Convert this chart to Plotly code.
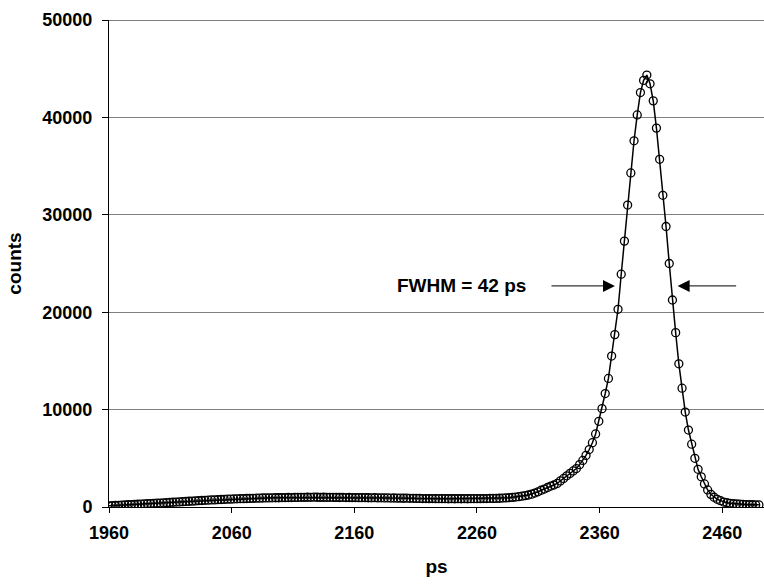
import plotly.graph_objects as go

# Channel calibration (ps)
CHANNEL_START_PS = 1960.0
CHANNEL_WIDTH_PS = 2.61

# Counts per channel
counts = [
    120, 135, 155, 165, 190, 205, 230, 245, 255, 280,
    300, 315, 340, 350, 370, 395, 405, 430, 445, 470,
    490, 505, 530, 545, 575, 590, 605, 630, 655, 665,
    690, 700, 725, 735, 755, 770, 780, 800, 805, 825,
    840, 850, 855, 875, 880, 890, 905, 905, 925, 930,
    935, 945, 950, 950, 965, 960, 975, 970, 985, 980,
    995, 990, 1000, 995, 1005, 1000, 990, 1000, 985, 995,
    980, 990, 975, 980, 970, 975, 965, 970, 960, 955,
    965, 950, 945, 955, 940, 945, 930, 935, 920, 925,
    910, 915, 900, 905, 890, 895, 880, 885, 870, 868,
    860, 865, 855, 858, 850, 852, 845, 850, 848, 852,
    845, 850, 848, 855, 850, 855, 860, 865, 870, 880,
    880, 885, 900, 920, 940, 960, 990, 1020, 1060, 1110,
    1170, 1230, 1320, 1430, 1560, 1720, 1840, 2000, 2150, 2260,
    2420, 2680, 2930, 3200, 3450, 3700, 3950, 4350, 4780, 5300,
    5900, 6600, 7500, 8800, 10100, 11650, 13200, 15500, 17700, 20300,
    23900, 27300, 31000, 34300, 37600, 40250, 42550, 43800, 44350, 43450,
    41700, 38900, 35700, 32000, 28800, 25000, 21250, 17900, 14700, 12200,
    9750, 7900, 6450, 5000, 3870, 3100, 2370, 1750, 1300, 1000,
    790, 650, 510, 440, 380, 340, 310, 290, 270, 250,
    240, 230, 225, 220,
]
time_ps = [CHANNEL_START_PS + CHANNEL_WIDTH_PS * i for i in range(len(counts))]

x_ticks = [1960, 2060, 2160, 2260, 2360, 2460]
y_ticks = [0, 10000, 20000, 30000, 40000, 50000]
x_range = [1960, 2494]
y_range = [0, 50000]

fwhm_label = "FWHM = 42 ps"
fwhm_left_ps = 2372.5
fwhm_right_ps = 2423.6
fwhm_level = 22700
label_ps = 2247.5

FONT = "Liberation Sans, Arial, sans-serif"

fig = go.Figure()
fig.add_trace(go.Scatter(
    x=time_ps, y=counts, mode="lines+markers",
    line=dict(color="black", width=1.5),
    marker=dict(symbol="circle-open", size=8, color="black", line=dict(width=1.3)),
    showlegend=False,
))

fig.add_shape(type="line", xref="paper", yref="y", x0=0, x1=1, y0=50000, y1=50000,
              line=dict(color="black", width=1))

# FWHM label and arrows
fig.add_annotation(x=label_ps, y=fwhm_level, text=fwhm_label, showarrow=False,
                   xanchor="center", yanchor="middle",
                   font=dict(family=FONT, size=19, color="black", weight="bold"))
fig.add_annotation(x=fwhm_left_ps, y=fwhm_level, ax=-65, ay=0, text="",
                   showarrow=True, arrowhead=2, arrowsize=2.4, arrowwidth=1,
                   arrowcolor="black", standoff=0)
fig.add_annotation(x=fwhm_right_ps, y=fwhm_level, ax=60, ay=0, text="",
                   showarrow=True, arrowhead=2, arrowsize=2.4, arrowwidth=1,
                   arrowcolor="black", standoff=0)

fig.update_layout(
    width=764, height=587,
    margin=dict(l=109, r=0, t=20, b=80, autoexpand=False),
    paper_bgcolor="white", plot_bgcolor="white",
    font=dict(family=FONT, size=18, color="black", weight="bold"),
    xaxis=dict(
        range=x_range, tickvals=x_ticks, ticktext=[str(v) for v in x_ticks],
        showgrid=False, zeroline=False, automargin=False,
        showline=True, linecolor="black", linewidth=1,
        ticks="outside", ticklen=5, tickcolor="black", tickwidth=1,
        ticklabelstandoff=4,
        tickfont=dict(family=FONT, size=18, color="black", weight="bold"),
        title=dict(text="ps", standoff=18,
                   font=dict(family=FONT, size=19, color="black", weight="bold")),
    ),
    yaxis=dict(
        range=y_range, tickvals=y_ticks, ticktext=[str(v) for v in y_ticks],
        showgrid=True, gridcolor="#808080", gridwidth=1, zeroline=False, automargin=False,
        showline=True, linecolor="black", linewidth=1,
        ticks="outside", ticklen=6, tickcolor="black", tickwidth=1,
        ticklabelstandoff=6,
        tickfont=dict(family=FONT, size=18, color="black", weight="bold"),
        title=dict(text="counts", standoff=15,
                   font=dict(family=FONT, size=19, color="black", weight="bold")),
    ),
)

fig.write_html(
    "out.html",
    config={"displayModeBar": False},
    post_script="document.body.style.margin='0px';document.body.style.overflow='hidden';",
)
